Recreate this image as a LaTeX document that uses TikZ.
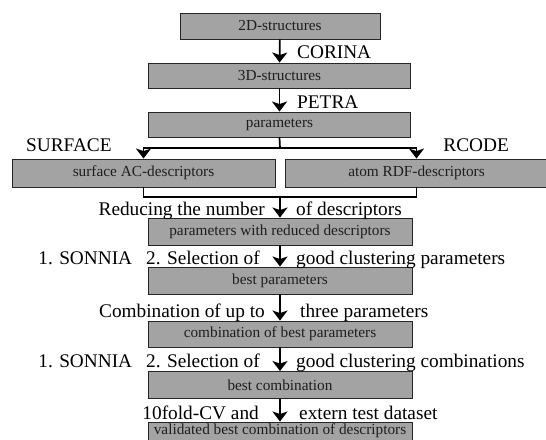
\documentclass[tikz,border=0pt]{standalone}
\usepackage{fontspec}
\setmainfont{Liberation Serif}
\usetikzlibrary{arrows.meta}
\definecolor{boxgray}{HTML}{A3A3A3}
\definecolor{txtdark}{HTML}{1E1E1E}
\tikzset{
  stepbox/.style={draw=black!85, line width=0.9pt, fill=boxgray, inner sep=0pt,
    minimum height=26pt, text=txtdark, font=\fontsize{15.3}{17}\selectfont},
  lbl/.style={inner sep=0pt, text=black, font=\fontsize{19.3}{21}\selectfont},
  conn/.style={line width=1.7pt, draw=black},
  arr/.style={conn, -{Stealth[width=15pt,length=10pt,inset=2.5pt]}},
}
\begin{document}
\begin{tikzpicture}[x=1pt,y=-1pt]
\clip (0,0) rectangle (546,439);
\fill[white] (0,0) rectangle (546,439);
% boxes
\node[stepbox, minimum width=200pt] (b1) at (280,26) {2D-structures};
\node[stepbox, minimum width=262pt, minimum height=25pt] (b2) at (279.5,75.5) {3D-structures};
\node[stepbox, minimum width=262pt, minimum height=25pt] (b3) at (279.5,124.5) {parameters};
\node[stepbox, minimum width=263pt, minimum height=28pt] (b4l) at (143.5,173) {surface AC-descriptors};
\node[stepbox, minimum width=263pt, minimum height=28pt] (b4r) at (416.5,173) {atom RDF-descriptors};
\node[stepbox, minimum width=264pt, minimum height=27pt] (b5) at (280,231.5) {parameters with reduced descriptors};
\node[stepbox, minimum width=264pt, minimum height=27pt] (b6) at (280,280.5) {best parameters};
\node[stepbox, minimum width=264pt, minimum height=26pt] (b7) at (280,334) {combination of best parameters};
\node[stepbox, minimum width=264pt, minimum height=27pt] (b8) at (280,385) {best combination};
\node[stepbox, minimum width=264pt, minimum height=18pt] (b9) at (280,431) {validated best combination of descriptors};
% junctions
\coordinate (splitT) at (280,148);
\coordinate (joinB) at (280,197);
% connectors
\draw[arr] (b1) -- (b2);
\draw[arr] (b2) -- (b3);
\draw[conn] (b3.south) -- (splitT);
\draw[arr] (splitT) -| (b4l.north);
\draw[arr] (splitT) -| (b4r.north);
\draw[conn] (b4l.south) |- (joinB);
\draw[conn] (b4r.south) |- (joinB);
\draw[arr] (joinB) -- (b5.north);
\draw[arr] (b5) -- (b6);
\draw[arr] (b6) -- (b7);
\draw[arr] (b7) -- (b8);
\draw[arr] (b8) -- (b9);
% labels
\node[lbl, anchor=base west] (lcor) at (297,58) {CORINA};
\node[lbl, anchor=base west] (lpet) at (297,108) {PETRA};
\node[lbl, anchor=base west] (lsur) at (26,151) {SURFACE};
\node[lbl, anchor=base east] (lrco) at (509,151) {RCODE};
\node[lbl, anchor=base east] (lred1) at (265,215) {Reducing the number};
\node[lbl, anchor=base west] (lred2) at (296,215) {of descriptors};
\node[lbl, anchor=base east] (lsel1) at (260,264) {1. SONNIA\hspace{14pt}2. Selection of};
\node[lbl, anchor=base west] (lsel2) at (296,264) {good clustering parameters};
\node[lbl, anchor=base east] (lcom1) at (265,317) {Combination of up to};
\node[lbl, anchor=base west] (lcom2) at (300,317) {three parameters};
\node[lbl, anchor=base east] (lsel3) at (260,367) {1. SONNIA\hspace{14pt}2. Selection of};
\node[lbl, anchor=base west] (lsel4) at (296,367) {good clustering combinations};
\node[lbl, anchor=base east] (lval1) at (259,419) {10fold-CV and};
\node[lbl, anchor=base west] (lval2) at (299,419) {extern test dataset};
\end{tikzpicture}
\end{document}
